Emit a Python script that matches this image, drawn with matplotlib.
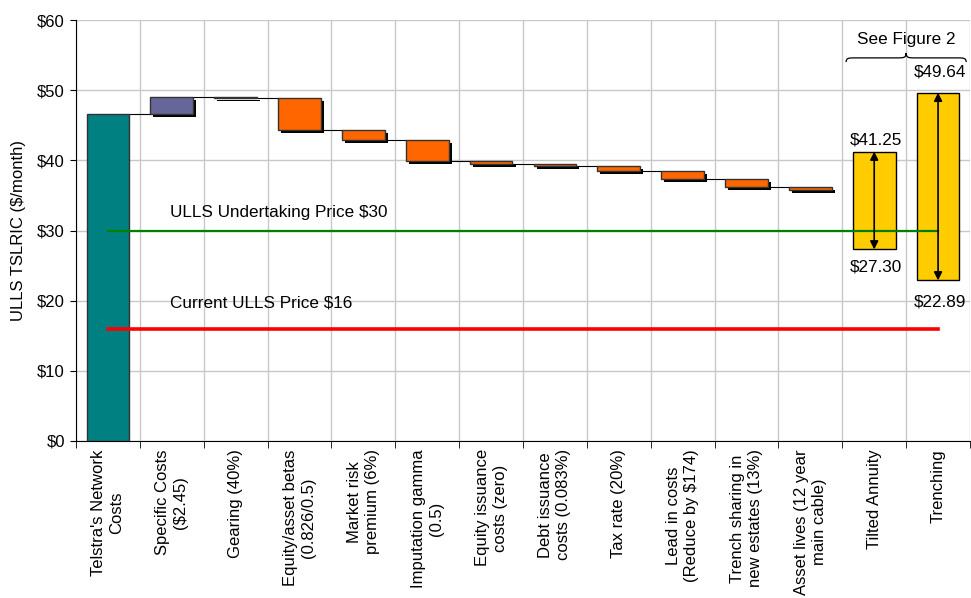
import matplotlib
matplotlib.use("Agg")
import matplotlib.pyplot as plt
import matplotlib.patheffects as pe
from matplotlib.path import Path
from matplotlib.patches import PathPatch
import numpy as np

plt.rcParams['font.family'] = ['Liberation Sans', 'DejaVu Sans']

categories = ["Telstra's Network\nCosts", "Specific Costs\n(\\$2.45)", "Gearing (40%)",
              "Equity/asset betas\n(0.826/0.5)", "Market risk\npremium (6%)",
              "Imputation gamma\n(0.5)", "Equity issuance\ncosts (zero)",
              "Debt issuance\ncosts (0.083%)", "Tax rate (20%)",
              "Lead in costs\n(Reduce by \\$174)", "Trench sharing in\nnew estates (13%)",
              "Asset lives (12 year\nmain cable)", "Tilted Annuity", "Trenching"]
base_value = 46.6
step_changes = [2.45, -0.15, -4.6, -1.45, -2.95, -0.47, -0.2, -0.75, -1.18, -1.15, -0.42]
range_low = [27.30, 22.89]
range_high = [41.25, 49.64]
undertaking_price = 30
current_price = 16
yticks = [0, 10, 20, 30, 40, 50, 60]

fig = plt.figure(figsize=(9.71, 5.98), dpi=100)
ax = fig.add_axes([76/971, 1 - 441/598, (970-76)/971, (441-20)/598])

w = 0.67
n = len(categories)
x = np.arange(n)

# base bar
ax.bar(0, base_value, width=w, color='#008080', edgecolor='#333333', linewidth=1, zorder=3)

levels = [base_value]
shadow = [pe.SimplePatchShadow(offset=(2.2, -2.2), shadow_rgbFace='black', alpha=1.0), pe.Normal()]
for i, d in enumerate(step_changes):
    start = levels[-1]
    end = start + d
    color = '#666699' if d > 0 else '#FF6600'
    b = ax.bar(i + 1, abs(d), bottom=min(start, end), width=w, color=color,
               edgecolor='#333333', linewidth=1, zorder=3)
    for p in b.patches:
        p.set_path_effects(shadow)
    levels.append(end)

# connectors
for i in range(len(levels) - 1):
    ax.plot([i + w/2, i + 1 - w/2], [levels[i], levels[i]], color='black', lw=0.8, zorder=2)

# range bars
hi_off = [1.65, 3.0]
lo_off = [2.5, 3.1]
for j in range(2):
    xi = n - 2 + j
    ax.bar(xi, range_high[j] - range_low[j], bottom=range_low[j], width=w,
           color='#FFCC00', edgecolor='black', linewidth=1, zorder=3)
    ax.annotate('', xy=(xi, range_low[j]), xytext=(xi, range_high[j]),
                arrowprops=dict(arrowstyle='<|-|>', color='black', lw=1.2,
                                mutation_scale=12, shrinkA=0, shrinkB=0), zorder=5)
    ax.text(xi + 0.03, range_high[j] + hi_off[j], '\\$%.2f' % range_high[j], ha='center',
            va='center', fontsize=12.3, zorder=6)
    ax.text(xi + 0.03, range_low[j] - lo_off[j], '\\$%.2f' % range_low[j], ha='center',
            va='center', fontsize=12.3, zorder=6)

# price lines
ax.plot([0, n - 1], [undertaking_price, undertaking_price], color='#008000', lw=1.6, zorder=4)
ax.plot([0, n - 1], [current_price, current_price], color='#FF0000', lw=2.6, zorder=4)
ax.text(0.97, undertaking_price + 2.5, 'ULLS Undertaking Price \\$30', fontsize=12.3,
        va='center', ha='left', zorder=6)
ax.text(0.97, current_price + 3.7, 'Current ULLS Price \\$16', fontsize=12.3,
        va='center', ha='left', zorder=6)

# brace
xl, xr, xm = 11.56, 13.44, 12.5
y0, y1, y2 = 54.0, 54.6, 55.3
dx = 0.14
verts = [(xl, y0), (xl, y1), (xl + dx*0.3, y1), (xl + dx, y1),
         (xm - dx, y1),
         (xm - dx*0.3, y1), (xm, y1), (xm, y2),
         (xm, y1), (xm + dx*0.3, y1), (xm + dx, y1),
         (xr - dx, y1),
         (xr - dx*0.3, y1), (xr, y1), (xr, y0)]
codes = [Path.MOVETO, Path.CURVE4, Path.CURVE4, Path.CURVE4,
         Path.LINETO,
         Path.CURVE4, Path.CURVE4, Path.CURVE4,
         Path.CURVE4, Path.CURVE4, Path.CURVE4,
         Path.LINETO,
         Path.CURVE4, Path.CURVE4, Path.CURVE4]
ax.add_patch(PathPatch(Path(verts, codes), facecolor='none', edgecolor='black', lw=0.9,
                       clip_on=False, zorder=6))
ax.text(xm, 57.2, 'See Figure 2', ha='center', va='center', fontsize=12.3)

# axes styling
ax.set_xlim(-0.5, n - 0.5)
ax.set_ylim(0, 60)
ax.set_yticks(yticks)
ax.set_yticklabels(['\\$%d' % v for v in yticks], fontsize=12)
ax.set_xticks(x)
ax.set_xticklabels(categories, rotation=90, ha='center', va='top', fontsize=12,
                   multialignment='center', linespacing=1.25)
ax.set_xticks(np.arange(n + 1) - 0.5, minor=True)
ax.tick_params(axis='x', which='major', length=0, pad=6)
ax.tick_params(axis='x', which='minor', length=5, direction='out')
ax.tick_params(axis='y', length=4, direction='out', pad=4)
ax.grid(True, which='minor', axis='x', color='#c8c8c8', lw=1, zorder=0)
ax.grid(True, which='major', axis='y', color='#c8c8c8', lw=1, zorder=0)
ax.set_axisbelow(True)
for s in ['top', 'right']:
    ax.spines[s].set_visible(False)
ax.set_ylabel('ULLS TSLRIC (\\$/month)', fontsize=12, labelpad=8)

fig.savefig('out.png', dpi=100)
